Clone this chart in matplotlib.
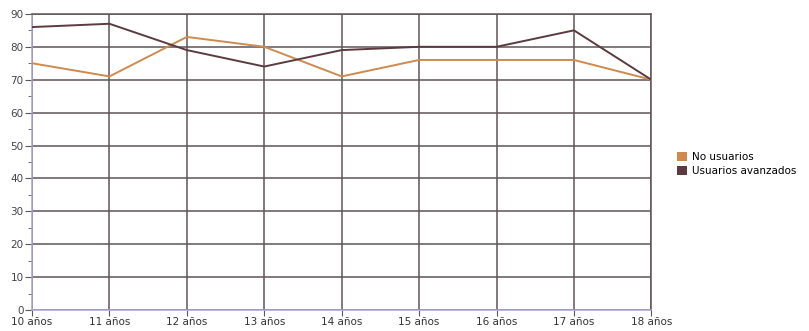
import matplotlib.pyplot as plt
from matplotlib.patches import Patch

edades = ['10 años', '11 años', '12 años', '13 años', '14 años',
          '15 años', '16 años', '17 años', '18 años']
no_usuarios = [75, 71, 83, 80, 71, 76, 76, 76, 70]
usuarios_avanzados = [86, 87, 79, 74, 79, 80, 80, 85, 70]
y_ticks = list(range(0, 91, 10))

c_no = '#cf8a4f'
c_av = '#5c3b40'
c_grid = '#5f5457'
c_axis = '#a9a3d6'

fig = plt.figure(figsize=(8.09, 3.31), dpi=100)
ax = fig.add_axes([0.0396, 0.0634, 0.7655, 0.8946])

x = list(range(len(edades)))
ax.plot(x, no_usuarios, color=c_no, lw=1.4, zorder=3)
ax.plot(x, usuarios_avanzados, color=c_av, lw=1.4, zorder=4)

ax.set_xlim(0, len(edades) - 1)
ax.set_ylim(0, 90)
ax.set_xticks(x)
ax.set_xticklabels(edades, fontsize=7.5, color='#333333')
ax.set_yticks(y_ticks)
ax.set_yticks([v + 5 for v in y_ticks[:-1]], minor=True)
ax.tick_params(axis='y', labelsize=7.5, labelcolor='#444444', length=5, color=c_grid, pad=1)
ax.tick_params(axis='y', which='minor', length=3, color=c_grid)
ax.tick_params(axis='x', length=4, color=c_grid, pad=1)
ax.grid(True, color=c_grid, lw=1.1)
ax.set_axisbelow(True)

for side in ['top', 'right']:
    ax.spines[side].set_color(c_grid)
    ax.spines[side].set_linewidth(1.1)
for side in ['left', 'bottom']:
    ax.spines[side].set_color(c_axis)
    ax.spines[side].set_linewidth(1.1)

handles = [Patch(facecolor=c_no, label='No usuarios'),
           Patch(facecolor=c_av, label='Usuarios avanzados')]
fig.legend(handles=handles, loc='center left', bbox_to_anchor=(0.825, 0.505),
           frameon=False, fontsize=7.5, handlelength=1.0, handleheight=1.0,
           handletextpad=0.5, labelspacing=0.35)

fig.savefig('out.png', dpi=100)
